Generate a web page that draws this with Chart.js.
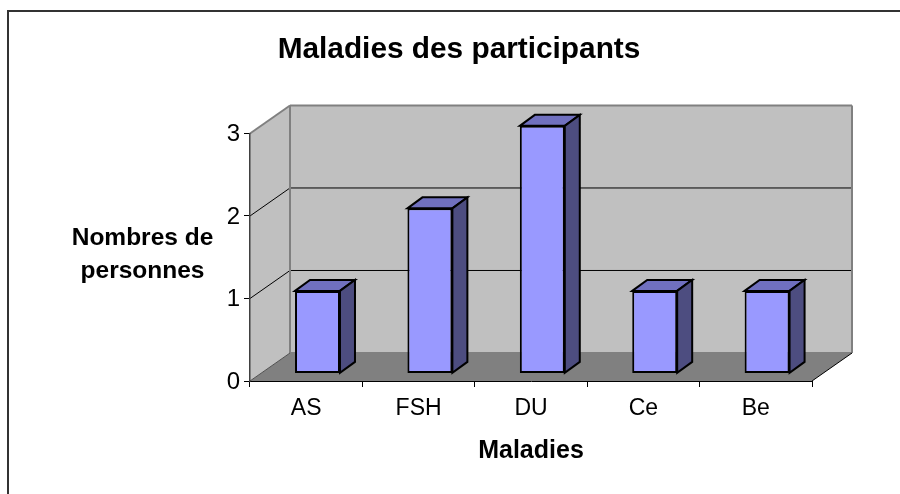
<!DOCTYPE html>
<html><head><meta charset="utf-8">
<style>html,body{margin:0;padding:0;background:#fff}#w{position:relative;width:900px;height:494px}canvas{display:block}</style>
<script src="https://cdn.jsdelivr.net/npm/chart.js@4/dist/chart.umd.min.js"></script>
</head><body><div id="w"><canvas id="c" width="900" height="494"></canvas></div>
<script>
const categories = ["AS","FSH","DU","Ce","Be"];
const values = [1,2,3,1,1];
const yTicks = [0,1,2,3];
const titleText = "Maladies des participants";
const xTitle = "Maladies";
const yTitleLines = ["Nombres de","personnes"];
const FONT = "'Liberation Sans', Arial, sans-serif";
const DEPTH = {x:40, y:-28};       // wall depth
const BAR_OFF = {x:11.3, y:-7.6};  // bar front face offset inside the floor
const BAR_SIDE = {x:15, y:-11};    // bar depth

function poly(ctx, pts, fill, stroke, lw){
  ctx.beginPath();
  pts.forEach((p,i)=> i?ctx.lineTo(p[0],p[1]):ctx.moveTo(p[0],p[1]));
  ctx.closePath();
  if(fill){ctx.fillStyle=fill;ctx.fill();}
  if(stroke){ctx.strokeStyle=stroke;ctx.lineWidth=lw;ctx.lineJoin='miter';ctx.stroke();}
}
function seg(ctx,x1,y1,x2,y2,c,lw){
  ctx.beginPath();ctx.moveTo(x1,y1);ctx.lineTo(x2,y2);ctx.strokeStyle=c;ctx.lineWidth=lw;ctx.stroke();
}
const box3d = {
  id:'box3d',
  afterLayout(chart){ chart.titleBlock.left = 106; },
  beforeDraw(chart){
    const ctx=chart.ctx, a=chart.chartArea, y=chart.scales.y;
    const L=a.left,R=a.right,T=a.top,B=a.bottom,dx=DEPTH.x,dy=DEPTH.y;
    ctx.save();
    ctx.strokeStyle='#333';ctx.lineWidth=2;
    ctx.beginPath();ctx.moveTo(8,494);ctx.lineTo(8,11);ctx.lineTo(900,11);ctx.stroke();
    poly(ctx,[[L+dx,T+dy],[R+dx,T+dy],[R+dx,B+dy],[L+dx,B+dy]],'#C0C0C0');
    poly(ctx,[[L,T],[L+dx,T+dy],[L+dx,B+dy],[L,B]],'#C0C0C0');
    poly(ctx,[[L,B],[L+dx,B+dy],[R+dx,B+dy],[R,B]],'#808080');
    yTicks.forEach(v=>{
      if(v===0||v===yTicks[yTicks.length-1])return;
      const p=y.getPixelForValue(v);
      seg(ctx,L,p,L+dx,p+dy,'#000',1);
      seg(ctx,L+dx,p+dy,R+dx,p+dy,'#000',1);
    });
    seg(ctx,L,T,L+dx,T+dy,'#808080',2);
    seg(ctx,L+dx,T+dy,R+dx,T+dy,'#808080',2);
    seg(ctx,L+dx,T+dy,L+dx,B+dy,'#808080',2);
    seg(ctx,R+dx,T+dy,R+dx,B+dy,'#808080',2);
    seg(ctx,L+dx,B+dy,R+dx,B+dy,'#808080',2);
    seg(ctx,L,B,L+dx,B+dy,'#505050',1);
    seg(ctx,R,B,R+dx,B+dy,'#000',1);
    ctx.restore();
    // horizontal y-axis title
    ctx.save();
    ctx.fillStyle='#000';ctx.font="bold 24.5px "+FONT;ctx.textAlign='center';ctx.textBaseline='middle';
    yTitleLines.forEach((t,i)=>ctx.fillText(t,142.5,238+i*33));
    ctx.restore();
  },
  beforeDatasetsDraw(chart){
    chart.ctx.save();
    chart.ctx.translate(BAR_OFF.x,BAR_OFF.y);
    const ctx=chart.ctx;
    chart.getDatasetMeta(0).data.forEach(b=>{
      const l=b.x-b.width/2,r=b.x+b.width/2,t=b.y,bt=b.base,sx=BAR_SIDE.x,sy=BAR_SIDE.y;
      poly(ctx,[[l,t],[l+sx,t+sy],[r+sx,t+sy],[r,t]],'#7070BF','#000',2);
      poly(ctx,[[r,t],[r+sx,t+sy],[r+sx,bt+sy],[r,bt]],'#4D4D80','#000',2);
    });
  },
  afterDatasetsDraw(chart){ chart.ctx.restore(); }
};
new Chart(document.getElementById('c'),{
  type:'bar',
  data:{labels:categories,datasets:[{data:values,backgroundColor:'#9999FF',borderColor:'#000',borderWidth:2,borderSkipped:false,barPercentage:0.4,categoryPercentage:1}]},
  plugins:[box3d],
  options:{
    responsive:false,animation:false,
    layout:{padding:{left:0,right:88,top:0,bottom:0}},
    plugins:{
      legend:{display:false},tooltip:{enabled:false},
      title:{display:true,text:titleText,color:'#000',font:{family:FONT,size:29.8,weight:'bold',lineHeight:1.2},padding:{top:32,bottom:65.7}}
    },
    scales:{
      x:{
        afterFit(s){s.height=113;},
        grid:{drawOnChartArea:false,drawTicks:true,tickLength:6,color:'#000',lineWidth:1,offset:true},
        border:{color:'#000',width:1},
        ticks:{color:'#000',font:{family:FONT,size:23},padding:8,maxRotation:0},
        title:{display:true,text:xTitle,color:'#000',font:{family:FONT,size:25,weight:'bold'},padding:{top:0,bottom:28}}
      },
      y:{
        afterFit(s){s.width=250;},
        min:0,max:3,
        afterBuildTicks(s){s.ticks=yTicks.map(v=>({value:v}));},
        grid:{drawOnChartArea:false,drawTicks:true,tickLength:6,color:'#000',lineWidth:1},
        border:{color:'#404040',width:1.5},
        ticks:{color:'#000',font:{family:FONT,size:24},padding:4,labelOffset:1}
      }
    }
  }
});
</script></body></html>
